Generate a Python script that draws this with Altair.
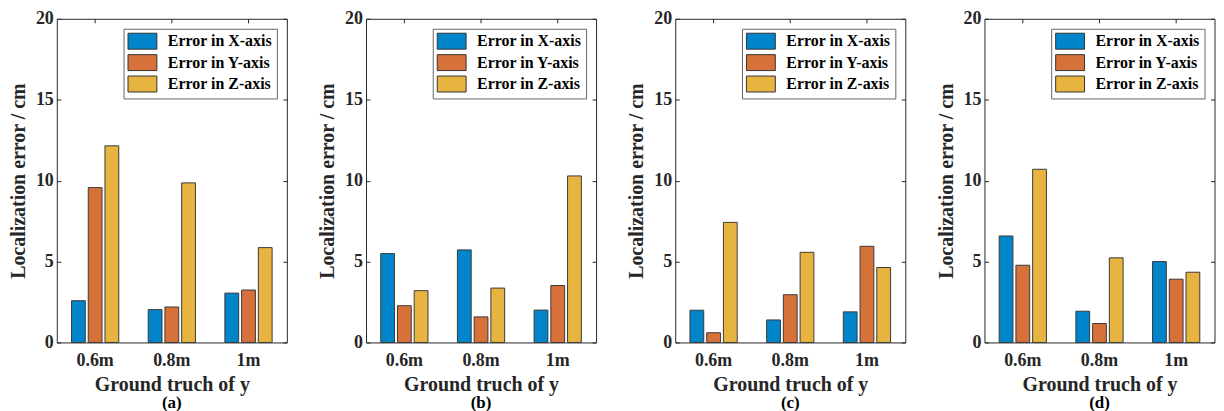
import altair as alt
import pandas as pd

categories = ["0.6m", "0.8m", "1m"]
series = ["Error in X-axis", "Error in Y-axis", "Error in Z-axis"]
colors = ["#0085CA", "#D6713A", "#E8B440"]
panels = ["(a)", "(b)", "(c)", "(d)"]
x_err = [[2.58, 2.03, 3.05], [5.49, 5.72, 2.00], [1.99, 1.39, 1.89], [6.58, 1.93, 5.00]]
y_err = [[9.57, 2.19, 3.24], [2.27, 1.58, 3.52], [0.60, 2.95, 5.94], [4.77, 1.17, 3.91]]
z_err = [[12.15, 9.86, 5.86], [3.20, 3.36, 10.29], [7.42, 5.57, 4.63], [10.70, 5.23, 4.34]]

FONT = "Liberation Serif"
TXT = "#262626"
rect_path = "M-1.8125,-1L1.8125,-1L1.8125,1L-1.8125,1Z"


def panel(i):
    rows = []
    for s, vals in zip(series, [x_err[i], y_err[i], z_err[i]]):
        for c, v in zip(categories, vals):
            rows.append({"cat": c, "series": s, "value": v})
    df = pd.DataFrame(rows)
    xscale = alt.Scale(domain=categories, paddingInner=0, paddingOuter=0)
    yscale = alt.Scale(domain=[0, 20])
    base = alt.Chart(df)
    bars = base.mark_bar(stroke="#3a3a3a", strokeWidth=1).encode(
        x=alt.X("cat:N", scale=xscale, sort=categories,
                axis=alt.Axis(title="Ground truch of y", labelAngle=0, domain=False,
                              tickSize=4, offset=-4, tickColor="#262626",
                              labelPadding=9, titlePadding=5)),
        xOffset=alt.XOffset("series:N", sort=series,
                            scale=alt.Scale(paddingInner=0.176, paddingOuter=0.88)),
        y=alt.Y("value:Q", scale=yscale,
                axis=alt.Axis(title="Localization error / cm", values=[0, 5, 10, 15, 20],
                              domain=False, tickSize=4, offset=-4, tickColor="#262626",
                              labelPadding=3.5, titlePadding=7, grid=False)),
        color=alt.Color("series:N", sort=series,
                        scale=alt.Scale(domain=series, range=colors),
                        legend=alt.Legend(title=None, orient="none", legendX=67, legendY=10,
                                          symbolType=rect_path, symbolSize=256,
                                          symbolStrokeColor="#333333", symbolStrokeWidth=1,
                                          symbolOffset=6.5, labelOffset=17,
                                          labelFont=FONT, labelFontWeight="bold",
                                          labelFontSize=16, labelColor="#000000",
                                          rowPadding=0.5, labelLimit=300,
                                          strokeColor="#666666", fillColor="white",
                                          padding=4)),
    )
    mirror = base.mark_bar(opacity=0).encode(
        x=alt.X("cat:N", scale=xscale, sort=categories,
                axis=alt.Axis(orient="top", title=None, labels=False, domain=False,
                              tickSize=4, offset=-4, tickColor="#262626",
                              labelPadding=0, minExtent=0, maxExtent=0)),
        xOffset=alt.XOffset("series:N", sort=series),
        y=alt.Y("value:Q", scale=yscale,
                axis=alt.Axis(orient="right", title=None, labels=False, domain=False,
                              values=[0, 5, 10, 15, 20],
                              tickSize=4, offset=-4, tickColor="#262626", grid=False,
                              labelPadding=0, minExtent=0, maxExtent=0)),
    )
    return alt.layer(bars, mirror).resolve_axis(x="independent", y="independent").properties(
        width=231, height=325,
        title=alt.TitleParams(panels[i], orient="bottom", font=FONT, fontSize=17,
                              fontWeight="bold", color="#000000", offset=1),
    )


chart = alt.hconcat(*[panel(i) for i in range(4)], spacing=29.5).resolve_scale(
    color="independent"
).properties(
    padding={"left": 0, "top": 0, "right": 0, "bottom": 0}
).configure_view(stroke="#262626", strokeWidth=1).configure_axis(
    labelFont=FONT, labelFontSize=18, labelFontWeight="bold", labelColor=TXT,
    titleFont=FONT, titleFontSize=20, titleFontWeight="bold", titleColor=TXT,
).configure_legend(
    labelFont=FONT, labelFontSize=16, labelFontWeight="bold", labelColor="#000000",
).configure_title(anchor="middle")

chart.save("out.html", embed_options={"renderer": "svg", "actions": False})
